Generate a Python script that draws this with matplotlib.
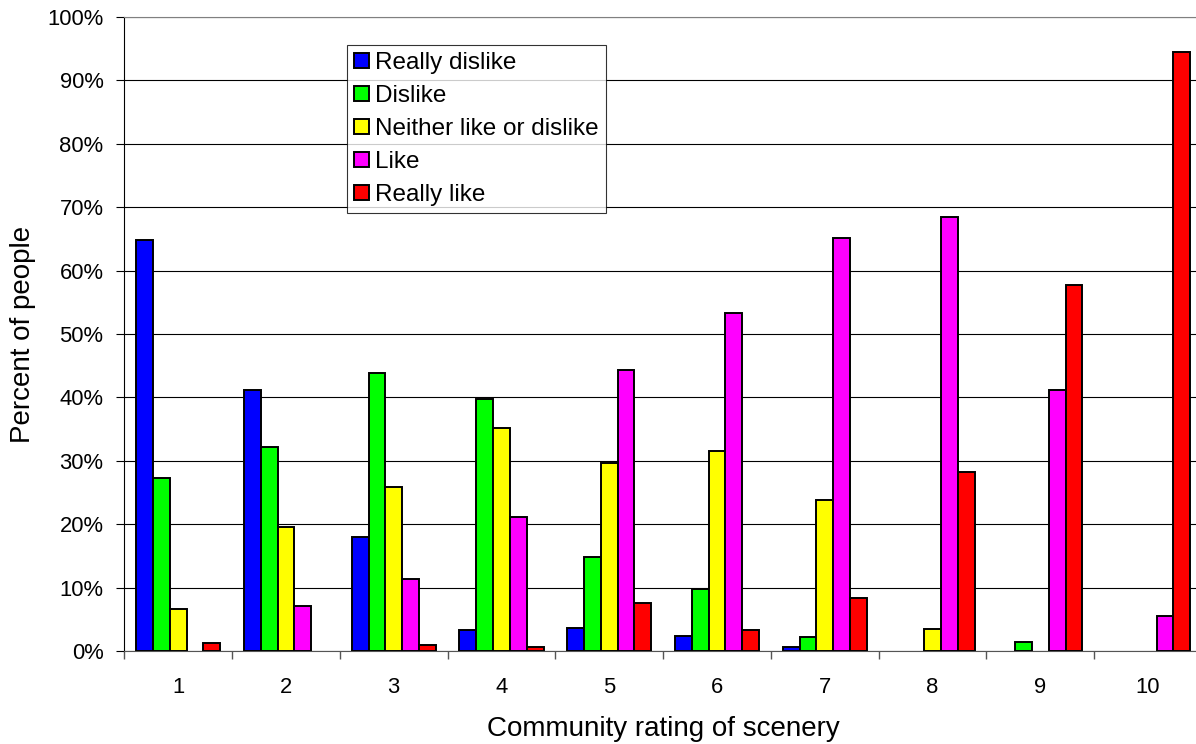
import numpy as np
import matplotlib.pyplot as plt
from matplotlib.ticker import FixedLocator, FuncFormatter

plt.rcParams['font.family'] = ['Liberation Sans', 'DejaVu Sans']

ratings = ['1', '2', '3', '4', '5', '6', '7', '8', '9', '10']
series_names = ['Really dislike', 'Dislike', 'Neither like or dislike', 'Like', 'Really like']
really_dislike = [64.9, 41.1, 18.0, 3.3, 3.7, 2.3, 0.7, 0.0, 0.0, 0.0]
dislike = [27.3, 32.1, 43.8, 39.7, 14.8, 9.8, 2.2, 0.0, 1.4, 0.0]
neither = [6.6, 19.6, 25.8, 35.1, 29.7, 31.6, 23.8, 3.4, 0.0, 0.0]
like = [0.0, 7.1, 11.4, 21.2, 44.4, 53.3, 65.1, 68.5, 41.1, 5.5]
really_like = [1.3, 0.0, 0.9, 0.7, 7.5, 3.3, 8.4, 28.3, 57.7, 94.5]
colors = ['#0000FF', '#00FF00', '#FFFF00', '#FF00FF', '#FF0000']

fig = plt.figure(figsize=(11.96, 7.44), dpi=100)
# plot area runs slightly past the right edge, as in the original
ax = fig.add_axes([124.3 / 1196, 93 / 744, 1077.7 / 1196, 634 / 744])

x = np.arange(len(ratings))
width = 0.156
all_series = [really_dislike, dislike, neither, like, really_like]
for i, (vals, name, col) in enumerate(zip(all_series, series_names, colors)):
    vals = np.array(vals)
    keep = vals > 0  # zero bars are not drawn at all
    ax.bar(x[keep] + (i - 2) * width, vals[keep], width, color=col, edgecolor='black',
           linewidth=1.4, label=name, zorder=3)

ax.set_xlim(-0.5, len(ratings) - 0.5)
ax.set_ylim(0, 100)
ax.set_yticks(np.arange(0, 101, 10))
ax.yaxis.set_major_formatter(FuncFormatter(lambda v, p: f'{v:.0f}%'))
ax.set_xticks(x)
ax.set_xticklabels(ratings)
ax.xaxis.set_minor_locator(FixedLocator(np.arange(-0.5, len(ratings), 1.0)))

ax.tick_params(axis='x', which='major', length=0, pad=19, labelsize=15.8)
ax.tick_params(axis='x', which='minor', length=6, width=1, color='#555555', direction='out')
ax.tick_params(axis='y', length=6, width=0.8, pad=9, labelsize=15.8, direction='out')

ax.grid(axis='y', color='black', linewidth=0.8, zorder=0)
ax.set_axisbelow(True)
ax.spines['right'].set_visible(False)
ax.spines['top'].set_color('#808080')
ax.spines['left'].set_color('black')
ax.spines['bottom'].set_color('#555555')

ax.set_xlabel('Community rating of scenery', fontsize=20, labelpad=13)
ax.set_ylabel('Percent of people', fontsize=20, labelpad=8)

leg = ax.legend(loc='upper left', bbox_to_anchor=((347 - 124.3) / 1077.7, (651 - 45) / 634),
                borderaxespad=0, fontsize=17.5, frameon=True, fancybox=False,
                handlelength=0.6, handleheight=0.6, handletextpad=0.25,
                labelspacing=0.45, borderpad=0.3)
leg.get_frame().set_edgecolor('black')
leg.get_frame().set_linewidth(0.8)

fig.savefig('out.png', dpi=100)
